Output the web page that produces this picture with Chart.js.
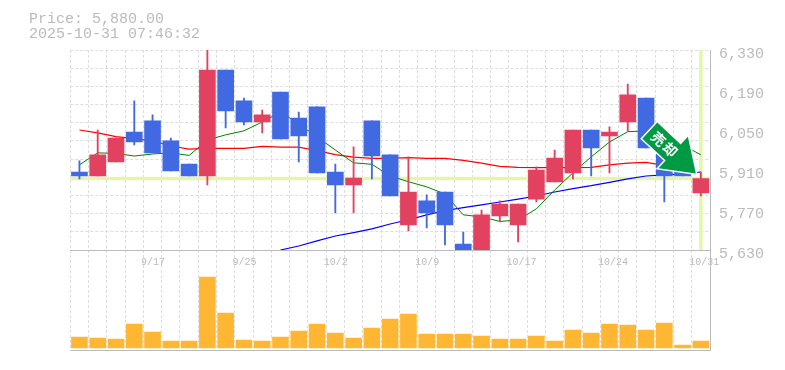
<!DOCTYPE html>
<html>
<head>
<meta charset="utf-8">
<style>
html, body { margin: 0; padding: 0; background: #fff; }
#chart { display: block; }
</style>
<script src="https://cdn.jsdelivr.net/npm/chart.js@4"></script>
</head>
<body>
<div style="width:785px;height:370px"><canvas id="chart" width="785" height="370"></canvas></div>
<script>
const days = ['9/10','9/11','9/12','9/16','9/17','9/18','9/19','9/22','9/24','9/25','9/26','9/29','9/30','10/1','10/2','10/3','10/6','10/7','10/8','10/9','10/10','10/14','10/15','10/16','10/17','10/20','10/21','10/22','10/23','10/24','10/27','10/28','10/29','10/30','10/31'];
const openPrice = [5903,5889,5938,6043,6082,6012,5931,5889,6260,6152,6078,6183,6092,6131,5903,5858,6082,5963,5718,5802,5833,5651,5630,5749,5718,5808,5868,5900,6050,6029,6078,6162,5980,5928,5830];
const closePrice = [5889,5963,6022,6008,5970,5907,5889,6260,6117,6078,6103,6019,6029,5900,5858,5882,5959,5819,5833,5760,5718,5630,5753,5791,5791,5910,5952,6050,5987,6043,6173,5987,5889,5889,5880];
const highPrice = [5942,6050,6022,6152,6103,6022,5931,6330,6260,6162,6120,6183,6113,6131,5931,5991,6082,5963,5956,5823,5833,5693,5770,5802,5791,5921,5980,6050,6050,6061,6211,6162,5980,5928,5903];
const lowPrice = [5879,5889,5938,5998,5970,5907,5889,5858,6057,6068,6040,6019,5938,5900,5760,5760,5879,5819,5697,5707,5648,5630,5630,5728,5658,5798,5868,5879,5889,5900,6047,5987,5798,5889,5819];
const volume = [11,10,9,24,16,7,7,71,35,8,7,11,17,24,15,10,20,29,34,14,14,14,12,9,9,12,7,18,15,24,23,18,25,3,7];
const maShort = [5928,5970,5968,5959,5966,5970,5961,6015,6033,6047,6078,6113,6071,6026,5980,5935,5930,5889,5869,5851,5826,5753,5746,5730,5735,5774,5840,5900,5956,6008,6044,6047,6022,5998,5963];
const maMid = [6050,6040,6027,6020,6012,5994,5983,5986,5986,5986,5993,5990,5990,5978,5964,5955,5951,5951,5953,5951,5951,5944,5934,5923,5919,5918,5918,5918,5919,5928,5934,5937,5926,5917,null];
const maLong = [null,null,null,null,null,null,null,null,null,null,null,5630,5644,5662,5679,5691,5704,5721,5736,5753,5768,5778,5788,5798,5808,5819,5833,5845,5855,5867,5879,5889,5893,5896,5903];
const priceTicks = [6330,6190,6050,5910,5770,5630];
const lastPrice = 5880;
const titleLines = ['Price: 5,880.00','2025-10-31 07:46:32'];
const signalText = '売却';

const upColor = '#e2425f';
const downColor = '#4169e1';
const textColor = '#bbbbbb';
const gridColor = '#dddddd';
const monoFont = '"Liberation Mono", "DejaVu Sans Mono", monospace';

function candleColor(ctx) {
    return closePrice[ctx.dataIndex] >= openPrice[ctx.dataIndex] ? upColor : downColor;
}

// last price / last day cross, sits under the candles
const crossPlugin = {
    id: 'cross',
    beforeDatasetsDraw(chart) {
        const { ctx, chartArea, scales } = chart;
        const y = scales.yPrice.getPixelForValue(lastPrice);
        const x = scales.x.getPixelForValue(days.length - 1);
        ctx.save();
        ctx.strokeStyle = '#e6f5ac';
        ctx.lineWidth = 3.5;
        ctx.beginPath();
        ctx.moveTo(chartArea.left, y);
        ctx.lineTo(chartArea.right, y);
        ctx.moveTo(x, chartArea.top);
        ctx.lineTo(x, scales.yPrice.bottom);
        ctx.stroke();
        ctx.restore();
    }
};

// green signal arrow, anchored next to the last candle
const arrowPlugin = {
    id: 'signalArrow',
    afterDatasetsDraw(chart) {
        const { ctx, scales } = chart;
        const tipX = scales.x.getPixelForValue(days.length - 1) - 5;
        const tipY = scales.yPrice.getPixelForValue(lastPrice) - 5;
        ctx.save();
        ctx.translate(tipX, tipY);
        ctx.rotate(43 * Math.PI / 180);
        ctx.beginPath();
        ctx.moveTo(0, 0);
        ctx.lineTo(-31, -21.5);
        ctx.lineTo(-31, -11);
        ctx.lineTo(-63, -11);
        ctx.lineTo(-63, 11);
        ctx.lineTo(-31, 11);
        ctx.lineTo(-31, 21.5);
        ctx.closePath();
        ctx.lineJoin = 'miter';
        ctx.lineWidth = 3;
        ctx.strokeStyle = '#ffffff';
        ctx.stroke();
        ctx.fillStyle = '#009944';
        ctx.fill();
        ctx.fillStyle = '#ffffff';
        ctx.font = 'bold 14px "Noto Sans CJK JP"';
        ctx.textAlign = 'center';
        ctx.textBaseline = 'middle';
        ctx.fillText(signalText[0], -51, 0);
        ctx.fillText(signalText[1], -35, 0);
        ctx.restore();
    }
};

new Chart(document.querySelector('#chart').getContext('2d'), {
    data: {
        labels: days,
        datasets: [
            { type: 'line', label: 'MA short', data: maShort, yAxisID: 'yPrice', borderColor: '#008000', borderWidth: 1, pointRadius: 0, tension: 0, order: 3 },
            { type: 'line', label: 'MA mid', data: maMid, yAxisID: 'yPrice', borderColor: '#ff0000', borderWidth: 1.2, pointRadius: 0, tension: 0, order: 3 },
            { type: 'line', label: 'MA long', data: maLong, yAxisID: 'yPrice', borderColor: '#0000ff', borderWidth: 1.2, pointRadius: 0, tension: 0, order: 3 },
            { type: 'bar', label: 'wick', data: days.map((d, i) => [lowPrice[i], highPrice[i]]), yAxisID: 'yPrice', grouped: false, barThickness: 1.2, backgroundColor: candleColor, order: 2 },
            { type: 'bar', label: 'body', data: days.map((d, i) => [openPrice[i], closePrice[i]]), yAxisID: 'yPrice', grouped: false, barThickness: 16, backgroundColor: candleColor, order: 1 },
            { type: 'bar', label: 'volume', data: volume, yAxisID: 'yVol', grouped: false, barThickness: 16, backgroundColor: '#ffb733', order: 1 }
        ]
    },
    options: {
        responsive: false,
        animation: false,
        layout: { padding: { left: 29, top: 9, bottom: 20 } },
        plugins: {
            legend: { display: false },
            tooltip: { enabled: false },
            title: {
                display: true,
                text: titleLines,
                align: 'start',
                color: textColor,
                font: { family: monoFont, size: 15, weight: 'normal', lineHeight: 1 },
                padding: { top: 3, bottom: 8 }
            }
        },
        scales: {
            x: {
                position: { yVol: 98 },
                offset: true,
                grid: { color: gridColor, offset: true, drawTicks: false, lineWidth: 1 },
                border: { color: textColor, dash: [3, 2], display: false },
                ticks: {
                    color: textColor,
                    font: { family: monoFont, size: 10 },
                    padding: 6,
                    maxRotation: 0,
                    autoSkip: false,
                    align: 'start',
                    labelOffset: -11.5,
                    callback(value, index) { return index % 5 === 4 ? days[index] : ''; }
                }
            },
            yPad: {
                position: 'left',
                display: true,
                grid: { display: false },
                border: { display: false },
                ticks: { display: false },
                afterFit(scale) { scale.width = 41.3; }
            },
            yPrice: {
                position: 'right',
                stack: 'panes',
                stackWeight: 2,
                min: 5630,
                max: 6330,
                grid: { color: gridColor, drawTicks: false },
                border: { display: false, dash: [3, 2] },
                ticks: { display: false },
                afterBuildTicks(scale) {
                    const step = (6330 - 5630) / 11;
                    scale.ticks = Array.from({ length: 12 }, (v, i) => ({ value: 5630 + step * i }));
                },
                afterFit(scale) { scale.width = 0; }
            },
            yVol: {
                position: 'right',
                stack: 'panes',
                stackWeight: 1,
                min: -2,
                max: 98,
                grid: { display: false },
                border: { display: false },
                ticks: { display: false },
                afterFit(scale) { scale.width = 0; }
            },
            yLabel: {
                position: 'right',
                // labels sit 3px below their gridline in the reference, so this axis is shifted
                min: 6344 - 300 * 3.5,
                max: 6344,
                grid: { display: false, drawTicks: false },
                border: { display: true, color: textColor },
                ticks: {
                    color: textColor,
                    font: { family: monoFont, size: 15 },
                    padding: 9,
                    autoSkip: false,
                    callback(value) { return value.toLocaleString('en-US'); }
                },
                afterBuildTicks(scale) { scale.ticks = priceTicks.map(value => ({ value })); },
                afterFit(scale) { scale.width = 75; }
            }
        }
    },
    plugins: [crossPlugin, arrowPlugin, {
        // pane separators
        id: 'paneLines',
        afterDraw(chart) {
            const { ctx, chartArea, scales } = chart;
            ctx.save();
            ctx.strokeStyle = textColor;
            ctx.beginPath();
            [scales.yPrice.bottom, chartArea.bottom].forEach(y => {
                ctx.moveTo(chartArea.left, Math.round(y) + 0.5);
                ctx.lineTo(chartArea.right, Math.round(y) + 0.5);
            });
            ctx.stroke();
            ctx.restore();
        }
    }]
});
</script>
</body>
</html>
